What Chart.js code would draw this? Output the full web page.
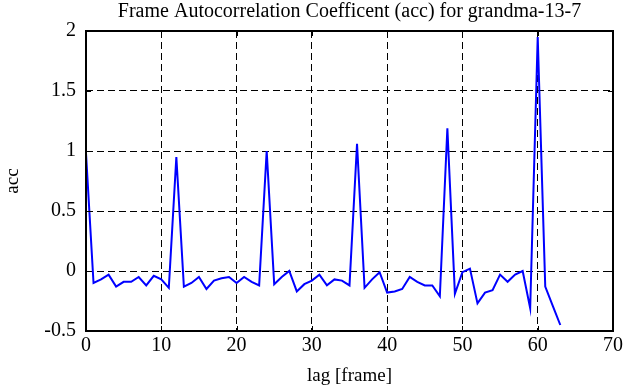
<!DOCTYPE html>
<html>
<head>
<meta charset="utf-8">
<script src="https://cdn.jsdelivr.net/npm/chart.js@4/dist/chart.umd.min.js"></script>
<style>
  html, body { margin: 0; padding: 0; background: #fff; }
  #wrap { width: 635px; height: 387px; }
</style>
</head>
<body>
<div id="wrap"><canvas id="accChart" width="635" height="387"></canvas></div>
<script>
// lag values (frames) and autocorrelation
const lags = [
  0, 1, 2, 3, 4, 5, 6, 7, 8, 9,
  10, 11, 12, 13, 14, 15, 16, 17, 18, 19,
  20, 21, 22, 23, 24, 25, 26, 27, 28, 29,
  30, 31, 32, 33, 34, 35, 36, 37, 38, 39,
  40, 41, 42, 43, 44, 45, 46, 47, 48, 49,
  50, 51, 52, 53, 54, 55, 56, 57, 58, 59,
  60, 61, 62, 63
];
const acc = [
  0.98, -0.10, -0.07, -0.03, -0.13, -0.09, -0.09, -0.05, -0.12, -0.04,
  -0.07, -0.14, 0.95, -0.13, -0.10, -0.05, -0.15, -0.08, -0.06, -0.05,
  -0.10, -0.05, -0.09, -0.12, 1.00, -0.11, -0.05, 0.00, -0.17, -0.11,
  -0.08, -0.03, -0.12, -0.07, -0.08, -0.12, 1.06, -0.14, -0.07, -0.01,
  -0.18, -0.17, -0.15, -0.05, -0.09, -0.12, -0.12, -0.21, 1.19, -0.19,
  -0.01, 0.02, -0.27, -0.18, -0.16, -0.03, -0.09, -0.03, 0.00, -0.31,
  1.95, -0.13, -0.29, -0.45
];
const xTicks = [0, 10, 20, 30, 40, 50, 60, 70];
const yTicks = [-0.5, 0, 0.5, 1, 1.5, 2];
const titleText = 'Frame Autocorrelation Coefficent (acc) for grandma-13-7';

const serif = "'Liberation Serif', 'Times New Roman', serif";

// box frame with inward tick marks (matlab style) + title centred over the axes
const framePlugin = {
  id: 'frame',
  afterDraw(chart) {
    const { ctx, chartArea: a, scales } = chart;
    ctx.save();
    ctx.strokeStyle = '#000';
    ctx.lineWidth = 1;
    ctx.setLineDash([]);
    const t = 5;
    ctx.beginPath();
    xTicks.forEach(v => {
      const px = Math.round(scales.x.getPixelForValue(v)) + 0.5;
      ctx.moveTo(px, a.bottom); ctx.lineTo(px, a.bottom - t);
      ctx.moveTo(px, a.top); ctx.lineTo(px, a.top + t);
    });
    yTicks.forEach(v => {
      const py = Math.round(scales.y.getPixelForValue(v)) + 0.5;
      ctx.moveTo(a.left, py); ctx.lineTo(a.left + t, py);
      ctx.moveTo(a.right, py); ctx.lineTo(a.right - t, py);
    });
    ctx.stroke();
    ctx.lineWidth = 2;
    ctx.strokeRect(a.left, a.top, a.right - a.left, a.bottom - a.top);

    ctx.fillStyle = '#000';
    ctx.font = '20px ' + serif;
    ctx.textAlign = 'center';
    ctx.textBaseline = 'alphabetic';
    ctx.fillText(titleText, (a.left + a.right) / 2, 17);
    ctx.restore();
  }
};

const ctx = document.getElementById('accChart').getContext('2d');
const accChart = new Chart(ctx, {
  type: 'line',
  data: {
    datasets: [{
      data: lags.map((l, i) => ({ x: l, y: acc[i] })),
      borderColor: '#0000ff',
      borderWidth: 2,
      pointRadius: 0,
      tension: 0,
      fill: false
    }]
  },
  options: {
    responsive: false,
    animation: false,
    layout: { padding: { left: 0, right: 22, top: 31, bottom: 0 } },
    plugins: {
      legend: { display: false },
      tooltip: { enabled: false },
      title: { display: false }
    },
    scales: {
      x: {
        type: 'linear',
        min: 0,
        max: 70,
        afterBuildTicks: s => { s.ticks = xTicks.map(v => ({ value: v })); },
        afterFit: s => { s.height = 56; },
        ticks: {
          color: '#000',
          font: { family: serif, size: 20 },
          padding: 3
        },
        grid: {
          color: '#000',
          lineWidth: 1,
          drawTicks: false
        },
        border: { display: false, dash: [7, 4] },
        title: {
          display: true,
          text: 'lag [frame]',
          color: '#000',
          font: { family: serif, size: 19 },
          padding: { top: 1, bottom: 0 }
        }
      },
      y: {
        type: 'linear',
        min: -0.5,
        max: 2,
        afterBuildTicks: s => { s.ticks = yTicks.map(v => ({ value: v })); },
        afterFit: s => { s.width = 86; },
        ticks: {
          color: '#000',
          font: { family: serif, size: 20 },
          padding: 10,
          callback: v => String(v)
        },
        grid: {
          color: '#000',
          lineWidth: 1,
          drawTicks: false
        },
        border: { display: false, dash: [7, 4] },
        title: {
          display: true,
          text: 'acc',
          color: '#000',
          font: { family: serif, size: 19 },
          padding: { top: 2, bottom: 0 }
        }
      }
    }
  },
  plugins: [framePlugin]
});
</script>
</body>
</html>
